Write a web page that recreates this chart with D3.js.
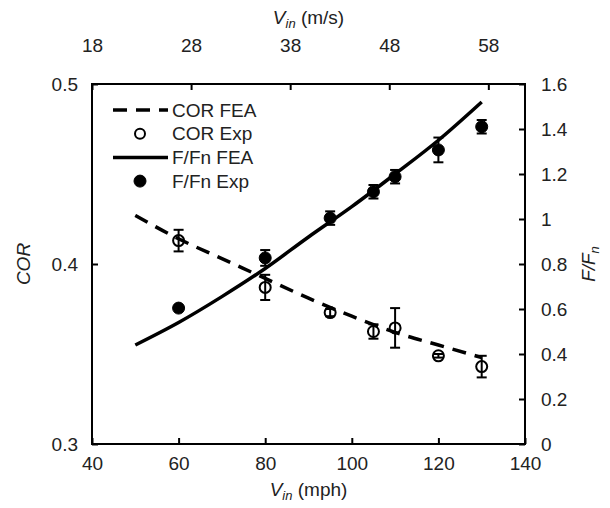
<!DOCTYPE html>
<html>
<head>
<meta charset="utf-8">
<script src="https://cdn.jsdelivr.net/npm/d3@7"></script>
<style>
  html, body { margin: 0; background: #fff; overflow: hidden; }
  svg { display: block; font-family: "Liberation Sans", Arial, sans-serif; }
</style>
</head>
<body>
<svg id="chart" width="610" height="508"></svg>
<script>
// FEA curves (speed in mph)
const feaSpeed = [50, 60, 70, 80, 90, 100, 110, 120, 130];
const corFea = [0.427, 0.414, 0.403, 0.392, 0.381, 0.371, 0.362, 0.355, 0.348];
const forceFea = [0.44, 0.54, 0.655, 0.78, 0.92, 1.055, 1.2, 1.35, 1.52];

// experiments
const expSpeed = [60, 80, 95, 105, 110, 120, 130];
const corExp = [0.413, 0.387, 0.373, 0.3625, 0.3645, 0.349, 0.343];
const corErr = [0.006, 0.007, 0.002, 0.004, 0.011, 0.001, 0.006];
const forceExp = [0.604, 0.827, 1.004, 1.121, 1.188, 1.307, 1.41];
const forceErr = [0.005, 0.035, 0.03, 0.03, 0.03, 0.055, 0.03];

const mphTicks = [40, 60, 80, 100, 120, 140];
const msTicks = [18, 28, 38, 48, 58];
const corTicks = [0.3, 0.4, 0.5];
const forceTicks = [0, 0.2, 0.4, 0.6, 0.8, 1, 1.2, 1.4, 1.6];

const legendItems = ['COR FEA', 'COR Exp', 'F/Fn FEA', 'F/Fn Exp'];

const margin = { top: 84, right: 85, bottom: 64, left: 92 };
const width = 610, height = 508;
const innerWidth = width - margin.left - margin.right;
const innerHeight = height - margin.top - margin.bottom;

const svg = d3.select('#chart');
const g = svg.append('g').attr('transform', `translate(${margin.left},${margin.top})`);

const x = d3.scaleLinear().domain([40, 140]).range([0, innerWidth]);
const xTop = d3.scaleLinear().domain([18, 61.7]).range([0, innerWidth]);
const yCor = d3.scaleLinear().domain([0.3, 0.5]).range([innerHeight, 0]);
const yF = d3.scaleLinear().domain([0, 1.6]).range([innerHeight, 0]);

const fontSize = '19px';
const subSize = '13px';
const fmt = d3.format('~g');

function styleAxis(sel) {
  sel.select('.domain').remove();
  sel.selectAll('.tick line').attr('stroke', '#000').attr('stroke-width', 2);
  sel.selectAll('.tick text').style('font-size', fontSize).attr('fill', '#222');
}

// Axes (ticks point inward)
g.append('g')
  .attr('transform', `translate(0,${innerHeight})`)
  .call(d3.axisBottom(x).tickValues(mphTicks).tickSizeInner(-6).tickSizeOuter(0).tickPadding(13))
  .call(styleAxis);

g.append('g')
  .call(d3.axisTop(xTop).tickValues(msTicks).tickSizeInner(-6).tickSizeOuter(0).tickPadding(32))
  .call(styleAxis);

g.append('g')
  .call(d3.axisLeft(yCor).tickValues(corTicks).tickFormat(fmt).tickSizeInner(-6).tickSizeOuter(0).tickPadding(14))
  .call(styleAxis);

g.append('g')
  .attr('transform', `translate(${innerWidth},0)`)
  .call(d3.axisRight(yF).tickValues(forceTicks).tickFormat(fmt).tickSizeInner(-6).tickSizeOuter(0).tickPadding(16))
  .call(styleAxis);

// Frame
g.append('rect')
  .attr('width', innerWidth)
  .attr('height', innerHeight)
  .attr('fill', 'none')
  .attr('stroke', '#000')
  .attr('stroke-width', 2);

// Lines
const corLine = d3.line()
  .x((d, i) => x(feaSpeed[i]))
  .y(d => yCor(d))
  .curve(d3.curveMonotoneX);

const forceLine = d3.line()
  .x((d, i) => x(feaSpeed[i]))
  .y(d => yF(d))
  .curve(d3.curveMonotoneX);

g.append('path')
  .datum(corFea)
  .attr('fill', 'none')
  .attr('stroke', '#000')
  .attr('stroke-width', 3.5)
  .attr('stroke-dasharray', '14 9')
  .attr('d', corLine);

g.append('path')
  .datum(forceFea)
  .attr('fill', 'none')
  .attr('stroke', '#000')
  .attr('stroke-width', 3.5)
  .attr('d', forceLine);

// Error bars + markers
function drawExp(values, errs, yScale, filled) {
  const grp = g.append('g');
  const pts = grp.selectAll('g').data(values).enter().append('g');
  pts.append('line')
    .attr('x1', (d, i) => x(expSpeed[i]))
    .attr('x2', (d, i) => x(expSpeed[i]))
    .attr('y1', (d, i) => yScale(d - errs[i]))
    .attr('y2', (d, i) => yScale(d + errs[i]))
    .attr('stroke', '#000').attr('stroke-width', 2);
  [-1, 1].forEach(s => {
    pts.append('line')
      .attr('x1', (d, i) => x(expSpeed[i]) - 5)
      .attr('x2', (d, i) => x(expSpeed[i]) + 5)
      .attr('y1', (d, i) => yScale(d + s * errs[i]))
      .attr('y2', (d, i) => yScale(d + s * errs[i]))
      .attr('stroke', '#000').attr('stroke-width', 2);
  });
  pts.append('circle')
    .attr('cx', (d, i) => x(expSpeed[i]))
    .attr('cy', d => yScale(d))
    .attr('r', filled ? 6 : 5.5)
    .attr('fill', filled ? '#000' : 'none')
    .attr('stroke', '#000')
    .attr('stroke-width', filled ? 1 : 2);
}

drawExp(corExp, corErr, yCor, false);
drawExp(forceExp, forceErr, yF, true);

// Legend
const legend = g.append('g').attr('transform', 'translate(21,26)');
legendItems.forEach((name, i) => {
  const row = legend.append('g').attr('transform', `translate(0,${i * 23.7})`);
  if (i === 0 || i === 2) {
    row.append('line')
      .attr('x1', 0).attr('x2', 55)
      .attr('stroke', '#000').attr('stroke-width', 3.5)
      .attr('stroke-dasharray', i === 0 ? '14 9' : null);
  } else {
    row.append('circle')
      .attr('cx', 27).attr('r', i === 1 ? 5 : 6)
      .attr('fill', i === 1 ? 'none' : '#000')
      .attr('stroke', '#000').attr('stroke-width', i === 1 ? 2 : 1);
  }
  row.append('text')
    .attr('x', 59).attr('dy', '0.35em')
    .style('font-size', fontSize)
    .attr('fill', '#222')
    .text(name);
});

// Axis titles
function vinTitle(yPos, unit) {
  const t = svg.append('text')
    .attr('x', margin.left + innerWidth / 2)
    .attr('y', yPos)
    .attr('text-anchor', 'middle')
    .style('font-size', fontSize)
    .attr('fill', '#222');
  t.append('tspan').style('font-style', 'italic').text('V');
  t.append('tspan').style('font-style', 'italic').style('font-size', subSize).attr('dy', 4).text('in');
  t.append('tspan').attr('dy', -4).text(` (${unit})`);
}
vinTitle(24, 'm/s');
vinTitle(496, 'mph');

svg.append('text')
  .attr('transform', `translate(30,${margin.top + innerHeight / 2}) rotate(-90)`)
  .attr('text-anchor', 'middle')
  .style('font-size', fontSize)
  .style('font-style', 'italic')
  .attr('fill', '#222')
  .text('COR');

const ft = svg.append('text')
  .attr('transform', `translate(595,${margin.top + innerHeight / 2}) rotate(-90)`)
  .attr('text-anchor', 'middle')
  .style('font-size', fontSize)
  .style('font-style', 'italic')
  .attr('fill', '#222');
ft.append('tspan').text('F/F');
ft.append('tspan').style('font-size', subSize).attr('dy', 4).text('n');
</script>
</body>
</html>
